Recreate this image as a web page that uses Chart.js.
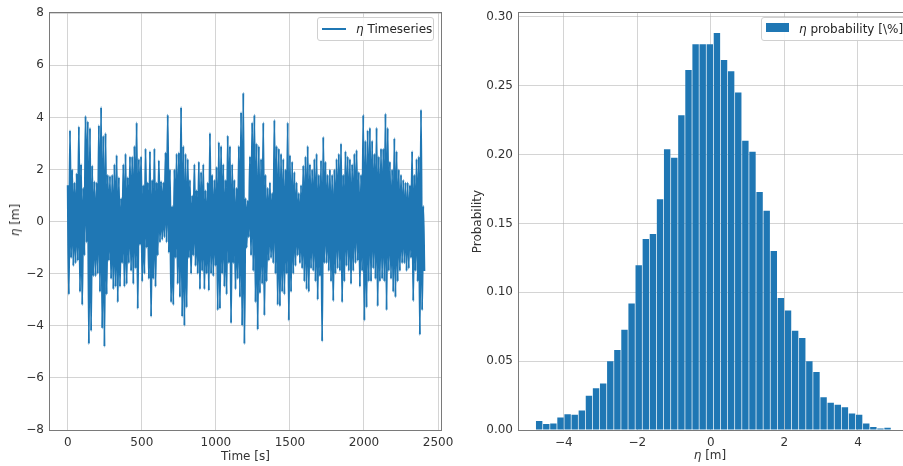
<!DOCTYPE html>
<html>
<head>
<meta charset="utf-8">
<script src="https://cdn.jsdelivr.net/npm/chart.js@4.4.1/dist/chart.umd.min.js"></script>
<style>
  html, body { margin: 0; padding: 0; background: #fff; }
  #wrap { position: relative; width: 903px; height: 466px; overflow: hidden; font-family: 'DejaVu Sans', sans-serif; }
  #left  { position: absolute; left: 0;   top: 0; }
  #right { position: absolute; left: 470px; top: 0; }
  .legend {
    position: absolute; top: 17px; height: 22px;
    border: 1px solid #d0d0d0; border-radius: 3px;
    background: rgba(255,255,255,0.85);
    font-size: 12px; color: #262626; box-sizing: content-box;
  }
  .legend .txt { position: absolute; top: 4px; white-space: nowrap; }
  .legend .line { position: absolute; left: 4px; top: 10px; width: 24px; height: 1.5px; background: #1f77b4; }
  .legend .box  { position: absolute; left: 4px; top: 5px; width: 23px; height: 9px; background: #1f77b4; }
  .title { position: absolute; font-size: 12px; color: #333; white-space: nowrap; transform: translate(-50%, -50%); }
  .title.rot { transform: translate(-50%, -50%) rotate(-90deg); }
</style>
</head>
<body>
<div id="wrap">
  <canvas id="left" width="460" height="466"></canvas>
  <canvas id="right" width="433" height="466"></canvas>

  <div class="title rot" style="left:15px; top:220px;"><i>η</i> [m]</div>
  <div class="title" style="left:710px; top:455px;"><i>η</i> [m]</div>

  <div class="legend" style="left:317px; width:115px;">
    <div class="line"></div>
    <div class="txt" style="left:38px;"><i>η</i> Timeseries</div>
  </div>
  <div class="legend" style="left:761px; width:150px;">
    <div class="box"></div>
    <div class="txt" style="left:37px;"><i>η</i> probability [\%]</div>
  </div>
</div>

<script>
const BLUE  = '#1f77b4';
const GRID  = 'rgba(176,176,176,0.55)';
const SPINE = '#7a7a7a';
const TEXT  = '#333333';
const FONT  = "'DejaVu Sans', sans-serif";

// ─── Surface elevation record ────────────────────────────────────────────────
// Crest and trough of each 15 s window, alternating in the plotted line.
const sampleStep = 15;
const crestVals = [
  1.4, 3.5, 2.0, 1.5, 1.85, 3.65, 2.2, 1.3, 4.05, 3.85,
  3.6, 2.15, 1.55, 1.5, 3.7, 4.4, 3.3, 3.4, 1.8, 1.75,
  1.8, 2.2, 2.55, 1.7, 0.9, 2.2, 2.6, 1.7, 2.5, 2.5,
  2.9, 3.8, 2.4, 2.5, 1.4, 2.8, 1.5, 2.7, 1.6, 2.8,
  1.5, 2.35, 1.55, 1.5, 2.65, 4.1, 2.0, 0.6, 2.0, 2.6,
  2.65, 4.4, 2.9, 2.6, 2.4, 1.6, 1.0, 2.2, 1.2, 2.3,
  1.9, 2.2, 1.2, 1.5, 3.4, 1.8, 1.6, 2.1, 3.05, 2.9,
  2.2, 1.6, 3.3, 2.9, 2.2, 1.6, 1.3, 2.9, 4.2, 4.95,
  0.9, 0.8, 2.5, 3.8, 4.1, 3.0, 2.9, 2.4, 3.8, 1.8,
  1.3, 1.5, 1.1, 3.9, 2.9, 2.8, 2.6, 2.4, 2.0, 3.8,
  2.55, 2.3, 1.9, 1.5, 1.1, 1.4, 2.15, 2.5, 2.9, 2.2,
  2.0, 2.4, 2.6, 1.8, 2.35, 3.25, 2.3, 1.8, 2.0, 1.8,
  2.0, 2.4, 2.6, 3.0, 1.8, 2.7, 2.5, 2.4, 2.2, 2.6,
  2.75, 1.9, 1.8, 4.1, 3.1, 3.5, 3.6, 3.1, 2.6, 3.6,
  2.5, 2.8, 2.8, 4.15, 3.6, 2.3, 2.0, 3.2, 2.7, 2.0,
  1.8, 1.6, 1.5, 1.5, 1.4, 2.7, 1.8, 2.4, 2.5, 4.3,
  0.6
];
const troughVals = [
  -2.8, -1.4, -1.7, -1.6, -1.5, -2.7, -3.2, -1.3, -0.8, -4.7,
  -4.2, -2.1, -2.1, -2.0, -2.7, -4.1, -4.8, -2.8, -1.5, -2.2,
  -2.6, -2.5, -3.1, -2.5, -1.6, -2.5, -2.4, -1.6, -1.9, -2.4,
  -1.8, -3.35, -0.9, -2.3, -2.0, -1.0, -2.2, -3.65, -2.2, -2.5,
  -1.3, -0.8, -0.7, -0.6, -0.8, -1.2, -3.1, -3.2, -1.4, -2.4,
  -2.9, -3.65, -4.0, -3.3, -1.4, -2.0, -1.3, -1.7, -2.0, -2.6,
  -1.9, -2.6, -2.0, -2.65, -2.0, -2.1, -1.7, -3.4, -3.35, -2.0,
  -2.5, -2.8, -1.6, -3.9, -1.6, -2.6, -2.2, -2.9, -4.0, -4.7,
  -1.0, -0.6, -1.3, -1.9, -3.1, -4.15, -2.75, -2.4, -3.6, -2.3,
  -1.5, -1.4, -1.6, -2.0, -3.2, -3.25, -2.7, -2.8, -2.0, -3.8,
  -2.7, -2.0, -1.7, -1.3, -1.6, -1.8, -2.3, -2.6, -2.7, -1.8,
  -1.9, -2.3, -3.0, -2.1, -4.6, -1.6, -1.6, -1.9, -2.3, -3.05,
  -2.0, -1.8, -1.9, -3.1, -2.3, -1.7, -1.9, -2.4, -1.9, -1.6,
  -1.5, -2.5, -1.9, -3.8, -3.3, -2.3, -2.3, -1.8, -2.2, -3.25,
  -2.3, -2.2, -2.3, -3.4, -1.9, -2.2, -2.7, -2.9, -2.3, -1.9,
  -1.6, -1.6, -1.9, -1.8, -1.4, -3.05, -1.9, -2.3, -4.35, -3.4,
  -1.9
];
const timeTicks = [0, 500, 1000, 1500, 2000, 2500];
const etaTicks  = [-8, -6, -4, -2, 0, 2, 4, 6, 8];

// ─── Histogram ───────────────────────────────────────────────────────────────
const binStart = -4.768;
const binWidth = 0.1934;
const probVals = [
  0.0065, 0.0043, 0.0048, 0.0091, 0.0115, 0.0110, 0.0142, 0.0248, 0.0303, 0.0337,
  0.0500, 0.0580, 0.0728, 0.0918, 0.1197, 0.1387, 0.1423, 0.1676, 0.2039, 0.1976,
  0.2286, 0.2614, 0.2800, 0.2800, 0.2800, 0.2882, 0.2687, 0.2605, 0.2451, 0.2100,
  0.2020, 0.1727, 0.1591, 0.1300, 0.0959, 0.0868, 0.0721, 0.0668, 0.0500, 0.0421,
  0.0238, 0.0197, 0.0183, 0.0166, 0.0120, 0.0110, 0.0048, 0.0022, 0.0010, 0.0017
];
const binTicks  = [-4, -2, 0, 2, 4];
const probTicks = [0, 0.05, 0.10, 0.15, 0.20, 0.25, 0.30];

const minus = v => (v < 0 ? '\u2212' + Math.abs(v) : String(v));

// Box around the plot area, drawn last
const frame = {
  id: 'frame',
  afterDraw(chart) {
    const { ctx, chartArea: a } = chart;
    ctx.save();
    ctx.strokeStyle = SPINE;
    ctx.lineWidth = 1;
    ctx.strokeRect(Math.round(a.left) - 0.5, Math.round(a.top) - 0.5,
                   Math.round(a.right - a.left) + 1, Math.round(a.bottom - a.top) + 1);
    ctx.restore();
  }
};

function axis(min, max, ticks, fmt, title, fit, titlePad) {
  return {
    type: 'linear',
    min, max,
    offset: false,
    z: 1,
    afterBuildTicks: s => { s.ticks = ticks.map(v => ({ value: v })); },
    afterFit: fit,
    border: { display: false },
    grid: { color: GRID, lineWidth: 1, drawTicks: false, offset: false },
    ticks: { color: TEXT, font: { size: 12, family: FONT }, padding: 6, maxRotation: 0, autoSkip: false, callback: fmt },
    title: { display: !!title, text: title, color: TEXT, font: { size: 12, family: FONT }, padding: titlePad || 4 }
  };
}

// ─── Left: timeseries ────────────────────────────────────────────────────────
const seriesPts = [];
crestVals.forEach((v, i) => {
  seriesPts.push({ x: i * sampleStep, y: v });
  seriesPts.push({ x: i * sampleStep + sampleStep / 2, y: troughVals[i] });
});

new Chart(document.getElementById('left'), {
  type: 'line',
  data: {
    datasets: [{
      label: 'η Timeseries',
      data: seriesPts,
      borderColor: BLUE,
      borderWidth: 2,
      pointRadius: 0,
      // monotone keeps every sample as its own stroke (no per-pixel merging)
      cubicInterpolationMode: 'monotone',
      fill: false
    }]
  },
  options: {
    responsive: false,
    animation: false,
    layout: { padding: { top: 11, right: 19, left: 0, bottom: 0 } },
    plugins: { legend: { display: false }, tooltip: { enabled: false } },
    scales: {
      x: axis(-120, 2520, timeTicks, v => minus(v), 'Time [s]', s => { s.height = 36; }, { top: 4, bottom: 2 }),
      y: axis(-8, 8, etaTicks, v => minus(v), '', s => { s.width = 50; })
    }
  },
  plugins: [frame]
});

// ─── Right: probability histogram ────────────────────────────────────────────
const binPts = probVals.map((p, i) => ({ x: binStart + binWidth * (i + 0.5), y: p }));

new Chart(document.getElementById('right'), {
  type: 'bar',
  data: {
    datasets: [{
      label: 'η probability [\\%]',
      data: binPts,
      backgroundColor: BLUE,
      borderWidth: 0,
      barPercentage: 0.9,
      categoryPercentage: 1.0
    }]
  },
  options: {
    responsive: false,
    animation: false,
    layout: { padding: { top: 11, right: 0, left: 0, bottom: 0 } },
    plugins: { legend: { display: false }, tooltip: { enabled: false } },
    scales: {
      x: axis(-5.22, 5.225, binTicks, v => minus(v), '', s => { s.height = 36; }),
      y: axis(0, 0.3026, probTicks, v => v.toFixed(2), 'Probability', s => { s.width = 49; }, { top: 1, bottom: 4 })
    }
  },
  plugins: [frame]
});
</script>
</body>
</html>
